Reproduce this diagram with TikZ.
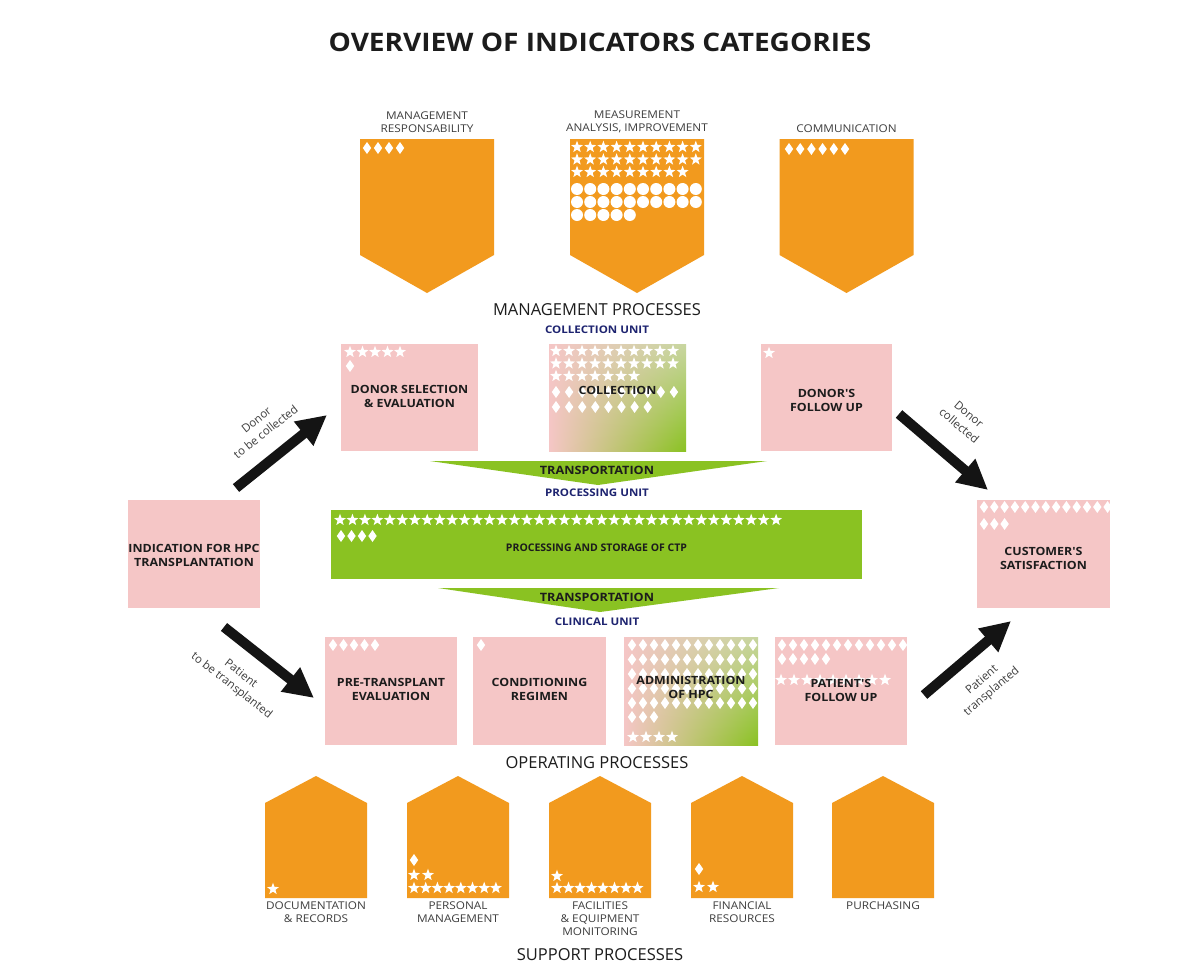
\documentclass[tikz,border=0pt]{standalone}
\usepackage{fontspec}
\setmainfont{Open Sans}
\newfontfamily\wfont[FakeStretch=1.1]{Open Sans}
\usetikzlibrary{arrows.meta,shadings}
\definecolor{orangec}{RGB}{242,154,30}
\definecolor{pinkc}{RGB}{245,198,198}
\definecolor{greenc}{RGB}{138,194,34}
\definecolor{greenl}{RGB}{200,214,160}
\definecolor{navyc}{RGB}{30,36,112}
\definecolor{textc}{RGB}{28,28,28}
\tikzset{
  titlelabel/.style={font=\wfont\bfseries\fontsize{25.5}{30}\selectfont, text=textc},
  boxlabel/.style={font=\wfont\bfseries\fontsize{11.3}{14}\selectfont, text=textc, align=center, inner sep=0pt},
  catlabel/.style={font=\wfont\fontsize{10.7}{13}\selectfont, text=textc!85, align=center, inner sep=0pt},
  proclabel/.style={font=\fontsize{16.5}{20}\selectfont, text=textc},
  unitlabel/.style={font=\wfont\bfseries\fontsize{10.5}{12}\selectfont, text=navyc},
  translabel/.style={font=\wfont\bfseries\fontsize{11.5}{12}\selectfont, text=textc},
  arrlabel/.style={font=\fontsize{11.5}{15}\selectfont, text=textc!85, align=center, inner sep=0pt},
  bigarrow/.style={line width=10pt, -{Triangle[length=30pt,width=29pt]}, draw=black!92},
  pinkbox/.style={fill=pinkc, draw=none, inner sep=0pt},
  gradbox/.style={draw=none, inner sep=0pt, upper left=pinkc, lower left=pinkc, upper right=greenl, lower right=greenc},
  shieldfill/.style={fill=orangec, draw=none},
  symfill/.style={fill=white, draw=none},
}
% rows of white symbols: first x, y, count, spacing
\newcommand\symS[4]{\foreach \k in {1,...,#3}{\fill[symfill] ({#1+(\k-1)*#4},#2) +(-90:6.3) -- +(-54:2.6) -- +(-18:6.3) -- +(18:2.6) -- +(54:6.3) -- +(90:2.6) -- +(126:6.3) -- +(162:2.6) -- +(198:6.3) -- +(234:2.6) -- cycle;}}
\newcommand\symD[4]{\foreach \k in {1,...,#3}{\fill[symfill] ({#1+(\k-1)*#4},{#2-6}) -- ++(4.2,6) -- ++(-4.2,6) -- ++(-4.2,-6) -- cycle;}}
\newcommand\symC[4]{\foreach \k in {1,...,#3}{\fill[symfill] ({#1+(\k-1)*#4},#2) circle (6pt);}}
\begin{document}
\begin{tikzpicture}[x=1pt,y=-1pt]
\useasboundingbox[fill=white] (0,0) rectangle (1180,972);

% title
\node[titlelabel] (title) at (600,42) {OVERVIEW OF INDICATORS CATEGORIES};

% management shields
\foreach \cx/\nm in {427/mr,637/ma,846.5/co}{
  \fill[shieldfill] (\cx-67,139) -- (\cx+67,139) -- (\cx+67,255) -- (\cx,293) -- (\cx-67,255) -- cycle;
  \coordinate (\nm) at (\cx,139);
}
\node[catlabel, anchor=south] (mrl) at ([yshift=6pt]mr) {MANAGEMENT\\RESPONSABILITY};
\node[catlabel, anchor=south] (mal) at ([yshift=6pt]ma) {MEASUREMENT\\ANALYSIS, IMPROVEMENT};
\node[catlabel, anchor=south] (col) at ([yshift=6pt]co) {COMMUNICATION};
\symD{367}{148}{4}{11}
\symS{577}{147}{10}{13.2}
\symS{577}{159.5}{10}{13.2}
\symS{577}{172}{9}{13.2}
\symC{577}{189}{10}{13.2}
\symC{577}{202}{10}{13.2}
\symC{577}{215}{5}{13.2}
\symD{789}{149}{6}{11.2}

\node[proclabel] (mproc) at (597,310) {MANAGEMENT PROCESSES};
\node[unitlabel] (cunit) at (597,330) {COLLECTION UNIT};

% collection unit
\node[pinkbox, minimum width=137pt, minimum height=107pt] (donorsel) at (409.5,397.5) {};
\node[gradbox, minimum width=137pt, minimum height=107pt] (collect) at (617.5,397.5) {};
\node[pinkbox, minimum width=131pt, minimum height=107pt] (donorfu) at (826.5,397.5) {};
\symS{350}{352}{5}{12.5}
\symD{350}{366}{1}{10}
\symS{556}{351}{10}{13}
\symS{556}{363.5}{10}{13}
\symS{556}{376}{7}{13}
\symD{556}{392}{10}{13.1}
\symD{556}{407}{8}{13.1}
\symS{769}{353}{1}{10}
\node[boxlabel] at ([yshift=1pt]donorsel.center) {DONOR SELECTION\\\& EVALUATION};
\node[boxlabel] at ([yshift=7.5pt]collect.center) {COLLECTION};
\node[boxlabel] at ([yshift=-3pt]donorfu.center) {DONOR'S\\FOLLOW UP};

% transportation 1
\fill[greenc] (430,461) -- (767,461) -- (598,485) -- cycle;
\node[translabel] (tr1) at (597,470) {TRANSPORTATION};
\node[unitlabel] (punit) at (597,493) {PROCESSING UNIT};

% processing band
\node[fill=greenc, draw=none, inner sep=0pt, minimum width=531pt, minimum height=69pt] (band) at (596.5,544.5) {};
\symS{340}{520}{36}{12.46}
\symD{341}{536}{4}{10.5}
\node[font=\bfseries\fontsize{10.5}{12}\selectfont, text=textc] at ([yshift=-3.5pt]band.center) {PROCESSING AND STORAGE OF CTP};

% transportation 2
\fill[greenc] (438,588) -- (779,588) -- (600,612) -- cycle;
\node[translabel] (tr2) at (597,597) {TRANSPORTATION};
\node[unitlabel] (clunit) at (597,622) {CLINICAL UNIT};

% clinical unit
\node[pinkbox, minimum width=132pt, minimum height=108pt] (pretrans) at (391,691) {};
\node[pinkbox, minimum width=133pt, minimum height=108pt] (condit) at (539.5,691) {};
\node[gradbox, minimum width=134pt, minimum height=108pt] (admin) at (691,691) {};
\node[pinkbox, minimum width=132pt, minimum height=108pt] (patfu) at (841,691) {};
\symD{333}{645}{5}{10.5}
\symD{481}{645}{1}{10}
\foreach \yy in {645,659.5,674,688.5,703}{\symD{632}{\yy}{12}{11}}
\symD{632}{717}{3}{11}
\symS{633}{737}{4}{13}
\symD{782}{645}{12}{11}
\symD{782}{659}{5}{11}
\symS{781}{680}{9}{13}
\node[boxlabel] at ([yshift=2pt]pretrans.center) {PRE-TRANSPLANT\\EVALUATION};
\node[boxlabel] at ([yshift=2pt]condit.center) {CONDITIONING\\REGIMEN};
\node[boxlabel] at ([yshift=4pt]admin.center) {ADMINISTRATION\\OF HPC};
\node[boxlabel] at ([yshift=1pt]patfu.center) {PATIENT'S\\FOLLOW UP};

\node[proclabel] (oproc) at (597,763) {OPERATING PROCESSES};

% side boxes
\node[pinkbox, minimum width=132pt, minimum height=108pt] (indic) at (194,554) {};
\node[boxlabel] at ([yshift=-1pt]indic.center) {INDICATION FOR HPC\\TRANSPLANTATION};
\node[pinkbox, minimum width=133pt, minimum height=108pt] (custsat) at (1043.5,554) {};
\symD{984}{507}{13}{10.3}
\symD{984}{524}{3}{10.3}
\node[boxlabel] at ([yshift=-4pt]custsat.center) {CUSTOMER'S\\SATISFACTION};

% arrows
\coordinate (a1s) at (236,488); \coordinate (a1e) at (327,415);
\coordinate (a2s) at (224,627); \coordinate (a2e) at (314,698);
\coordinate (a3s) at (899,414); \coordinate (a3e) at (988,490);
\coordinate (a4s) at (924,695); \coordinate (a4e) at (1011,621);
\draw[bigarrow] (a1s) -- (a1e);
\draw[bigarrow] (a2s) -- (a2e);
\draw[bigarrow] (a3s) -- (a3e);
\draw[bigarrow] (a4s) -- (a4e);
\node[arrlabel, rotate=38.6] at (261,426) {Donor\\to be collected};
\node[arrlabel, rotate=-38] at (236,680) {Patient\\to be transplanted};
\node[arrlabel, rotate=-40.5] at (964,420) {Donor\\collected};
\node[arrlabel, rotate=40.3] at (987,686) {Patient\\transplanted};

% support houses
\foreach \cx/\nm in {316/h1,458/h2,600/h3,742/h4,883/h5}{
  \fill[shieldfill] (\cx-51,898) -- (\cx-51,803) -- (\cx,776) -- (\cx+51,803) -- (\cx+51,898) -- cycle;
  \coordinate (\nm) at (\cx,898);
}
\symS{273}{889}{1}{10}
\symD{414}{860}{1}{10}
\symS{414}{875}{2}{14}
\symS{414}{888}{8}{11.7}
\symS{557}{876}{1}{10}
\symS{557}{888}{8}{11.5}
\symD{699}{869}{1}{10}
\symS{699}{887}{2}{14}
\node[catlabel, anchor=north] at ([yshift=-4pt]h1) {DOCUMENTATION\\\& RECORDS};
\node[catlabel, anchor=north] at ([yshift=-4pt]h2) {PERSONAL\\MANAGEMENT};
\node[catlabel, anchor=north] at ([yshift=-4pt]h3) {FACILITIES\\\& EQUIPMENT\\MONITORING};
\node[catlabel, anchor=north] at ([yshift=-4pt]h4) {FINANCIAL\\RESOURCES};
\node[catlabel, anchor=north] at ([yshift=-4pt]h5) {PURCHASING};

\node[proclabel] (sproc) at (600,955) {SUPPORT PROCESSES};
\end{tikzpicture}
\end{document}
